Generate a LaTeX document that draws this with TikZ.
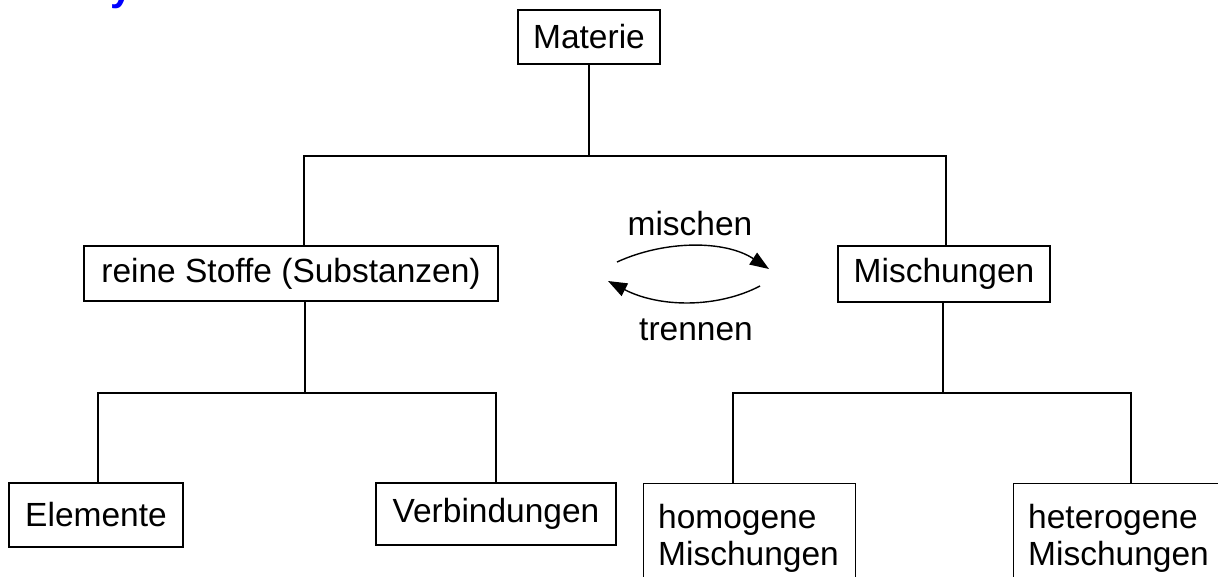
\documentclass[tikz,border=0pt]{standalone}
\usepackage{fontspec}
\setmainfont{Liberation Sans}
\usetikzlibrary{arrows.meta}
\begin{document}
\begin{tikzpicture}[x=1pt,y=-1pt,
  box/.style={draw, line width=1.3pt, inner sep=0pt, font=\fontsize{33.5}{37}\selectfont},
  ln/.style={line width=1.3pt},
  arr/.style={line width=1.4pt, -{Triangle[length=19pt,width=14pt]}},
  lbl/.style={font=\fontsize{33.5}{37}\selectfont, inner sep=0pt}]
\useasboundingbox (0,0) rectangle (1218,576);
\clip (0,0) rectangle (1218,576);
\fill[white] (0,0) rectangle (1218,576);
% cut-off title letter
\node[font=\fontsize{40}{40}\selectfont\bfseries, text=blue, anchor=base west, inner sep=0pt] (ttl) at (110,0) {y};
% boxes
\node[box, minimum width=142pt, minimum height=54pt] (mat) at (589,37) {Materie};
\node[box, minimum width=414pt, minimum height=55pt] (reine) at (291,273.5) {reine Stoffe (Substanzen)};
\node[box, minimum width=212pt, minimum height=56pt] (misch) at (944,274) {Mischungen};
\node[box, minimum width=174pt, minimum height=64pt] (elem) at (96,515) {Elemente};
\node[box, minimum width=240pt, minimum height=62pt] (verb) at (496,514) {Verbindungen};
\node[box, minimum width=212pt, minimum height=140pt, anchor=north west] (hom) at (643,483) {};
\node[box, minimum width=260pt, minimum height=140pt, anchor=north west] (het) at (1013,483) {};
\node[lbl, anchor=base west] (hom1) at (658,528) {homogene};
\node[lbl, anchor=base west] (hom2) at (658,565) {Mischungen};
\node[lbl, anchor=base west] (het1) at (1028,528) {heterogene};
\node[lbl, anchor=base west] (het2) at (1028,565) {Mischungen};
% tree lines
\coordinate (b1l) at (304,156);
\coordinate (b1r) at (946,156);
\draw[ln] (mat.south) -- (mat.south |- b1l);
\draw[ln] (reine.north -| b1l) -- (b1l) -- (b1r) -- (misch.north -| b1r);
\coordinate (r2) at (305,393);
\coordinate (b2l) at (98,393);
\coordinate (b2r) at (496,393);
\draw[ln] (reine.south -| r2) -- (r2);
\draw[ln] (elem.north -| b2l) -- (b2l) -- (b2r) -- (verb.north -| b2r);
\coordinate (m3) at (943,393);
\coordinate (b3l) at (733,393);
\coordinate (b3r) at (1131,393);
\draw[ln] (misch.south -| m3) -- (m3);
\draw[ln] (hom.north -| b3l) -- (b3l) -- (b3r) -- (het.north -| b3r);
% arrows
\coordinate (a1s) at (617,262);
\coordinate (a1e) at (769,269);
\coordinate (a2s) at (760,286);
\coordinate (a2e) at (608,281);
\draw[arr] (a1s) .. controls (665,240) and (725,240) .. (a1e);
\draw[arr] (a2s) .. controls (718,308) and (660,308) .. (a2e);
\node[lbl, anchor=base] (mi) at (690,235) {mischen};
\node[lbl, anchor=base] (tr) at (696,340) {trennen};
\end{tikzpicture}
\end{document}
